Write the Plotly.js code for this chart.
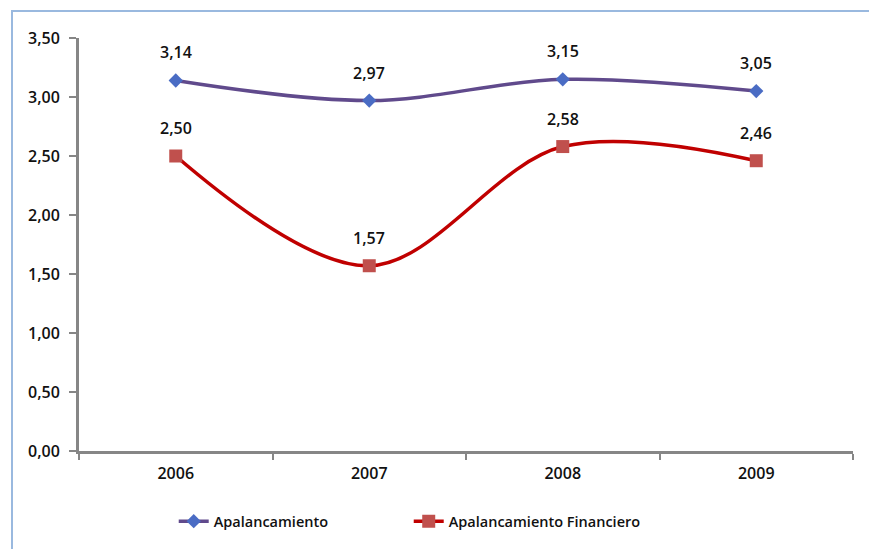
<!DOCTYPE html>
<html>
<head>
<meta charset="utf-8">
<script src="https://cdn.plot.ly/plotly-3.0.1.min.js"></script>
<style>
html,body{margin:0;padding:0;background:#fff;overflow:hidden;}
#chart{width:869px;height:549px;position:absolute;left:0;top:0;}
#frame{position:absolute;left:11px;top:10px;width:900px;height:600px;border:2px solid #9ab9df;pointer-events:none;}
</style>
</head>
<body>
<div id="chart"></div>
<div id="frame"></div>
<script>
const years = ['2006', '2007', '2008', '2009'];
const apalancamiento = [3.14, 2.97, 3.15, 3.05];
const apalancamientoFinanciero = [2.50, 1.57, 2.58, 2.46];
const yTicks = [0, 0.5, 1, 1.5, 2, 2.5, 3, 3.5];

const fmt = v => v.toFixed(2).replace('.', ',');
const FONT = 'Open Sans, Noto Sans, sans-serif';
const TXT = '#111111';
const W = 600;

const traces = [
  {
    x: years, y: apalancamiento, name: 'Apalancamiento', type: 'scatter', mode: 'lines+markers',
    line: {color: '#604a8c', width: 3.5, shape: 'spline', smoothing: 1},
    marker: {symbol: 'diamond', size: 11, color: '#4a6cc4', line: {width: 0}}
  },
  {
    x: years, y: apalancamientoFinanciero, name: 'Apalancamiento Financiero', type: 'scatter', mode: 'lines+markers',
    line: {color: '#c00000', width: 3.5, shape: 'spline', smoothing: 1},
    marker: {symbol: 'square', size: 13, color: '#c0504d', line: {width: 0}}
  }
];

const annotations = [];
[apalancamiento, apalancamientoFinanciero].forEach(series => {
  series.forEach((v, i) => {
    annotations.push({
      x: i, y: v, xref: 'x', yref: 'y', text: fmt(v), showarrow: false,
      yanchor: 'middle', yshift: 28, font: {family: FONT, size: 16, color: TXT, weight: W}
    });
  });
});

const layout = {
  width: 869, height: 549,
  margin: {l: 79, r: 16, t: 38, b: 98},
  paper_bgcolor: 'rgba(0,0,0,0)', plot_bgcolor: '#fff',
  separators: ',.',
  showlegend: true,
  legend: {orientation: 'h', x: 0.426, xanchor: 'center', y: -0.17, yanchor: 'middle',
    font: {family: FONT, size: 14.5, color: TXT, weight: W}, entrywidth: 190, entrywidthmode: 'pixels'},
  xaxis: {
    type: 'category', range: [-0.5, 3.5], showgrid: false, zeroline: false,
    showline: true, linecolor: '#868686', linewidth: 3,
    ticks: 'outside', tickson: 'boundaries', ticklen: 6, tickcolor: '#868686', tickwidth: 2,
    ticklabelstandoff: 6,
    tickfont: {family: FONT, size: 16, color: TXT, weight: W}, fixedrange: true
  },
  yaxis: {
    range: [0, 3.5], tickvals: yTicks, tickformat: '.2f', showgrid: false, zeroline: false,
    showline: true, linecolor: '#868686', linewidth: 3,
    ticks: 'outside', ticklen: 7, tickcolor: '#868686', tickwidth: 2,
    ticklabelstandoff: 6,
    tickfont: {family: FONT, size: 16, color: TXT, weight: W}, fixedrange: true
  },
  annotations: annotations
};

Plotly.newPlot('chart', traces, layout, {displayModeBar: false, staticPlot: true});
</script>
</body>
</html>
